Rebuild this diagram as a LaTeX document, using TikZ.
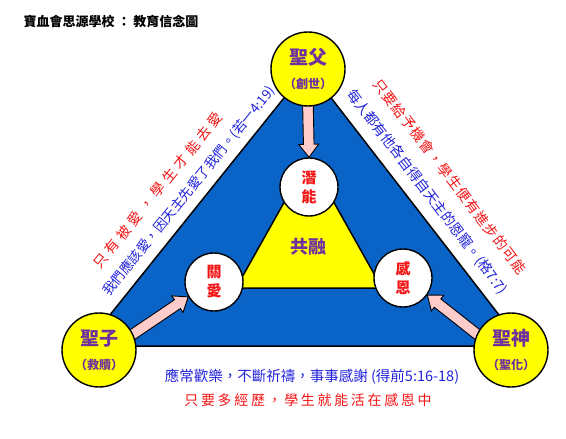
\documentclass[tikz,border=0pt]{standalone}
\usepackage{fontspec}
\setmainfont{Noto Sans CJK TC}
\usetikzlibrary{calc, backgrounds}
\definecolor{triblue}{HTML}{0A64C8}
\definecolor{sunyellow}{HTML}{FFFF00}
\definecolor{arrowpink}{HTML}{FFCCCC}
\definecolor{namepurple}{HTML}{7030A0}
\definecolor{wordred}{HTML}{F51414}
\definecolor{wordblue}{HTML}{2323DC}

\begin{document}
\begin{tikzpicture}[x=1pt, y=-1pt,
  person/.style={circle, draw, line width=1.4pt, fill=sunyellow, minimum size=74pt,
                 inner sep=0pt, align=center, text=namepurple,
                 font=\fontsize{19}{24}\selectfont\bfseries},
  value/.style={circle, draw, line width=1.4pt, fill=white, minimum size=58pt,
                inner sep=0pt, align=center, text=wordred,
                font=\fontsize{15}{19}\selectfont\bfseries},
  sidetext/.style={inner sep=0pt, font=\fontsize{14}{14}\selectfont},
  blockarrow/.style={draw=black, line width=0.9pt, fill=arrowpink, line join=miter,
    to path={let \p1=(\tikztostart), \p2=(\tikztotarget),
      \n1={atan2(\y2-\y1,\x2-\x1)}, \n2={veclen(\x2-\x1,\y2-\y1)}, \n3={\n2-13pt} in
      {[shift={(\p1)}, rotate=\n1]
       (-3pt,5.3pt) -- (\n3,5.3pt) -- (\n3,10pt) -- (\n2,0pt)
       -- (\n3,-10pt) -- (\n3,-5.3pt) -- (-3pt,-5.3pt) -- cycle}}}]
\useasboundingbox (0,0) rectangle (566,439);

\node[anchor=west, font=\fontsize{13}{13}\selectfont\bfseries] (title) at (20,22)
  {寶血會思源學校 ： 教育信念圖};

% the three persons
\node[person] (fa) at (308,69) {聖父\\{\fontsize{12}{14}\selectfont （創世）}};
\node[person] (zi) at (99,350) {聖子\\{\fontsize{12}{14}\selectfont （救贖）}};
\node[person] (sh) at (511,350) {聖神\\{\fontsize{12}{14}\selectfont （聖化）}};

% inner values
\node[value] (qn) at (309,187) {潛\\能};
\node[value] (ga) at (214,282) {關\\愛};
\node[value] (ge) at (403,278) {感\\恩};
\node[text=namepurple, font=\fontsize{18}{18}\selectfont\bfseries] (gr) at (308,247) {共融};

% texts along the sides
\node[sidetext, text=wordred, rotate=51] (lred) at (158,190)
  {\addfontfeatures{LetterSpace=30}只有被愛，學生才能去愛};
\node[sidetext, text=wordblue, rotate=51, font=\fontsize{13.5}{13.5}\selectfont] (lblue) at (189,191)
  {我們應該愛，因天主先愛了我們。(若一4:19)};
\node[sidetext, text=wordred, rotate=-52.5] (rred) at (450,177)
  {\addfontfeatures{LetterSpace=8}只要給予機會，學生便有進步的可能};
\node[sidetext, text=wordblue, rotate=-52.5] (rblue) at (427,192)
  {每人都有他各自得自天主的恩寵。(格7:7)};
\node[text=wordblue, font=\fontsize{14.5}{14.5}\selectfont] (bblue) at (312,377)
  {應常歡樂，不斷祈禱，事事感謝 (得前5:16-18)};
\node[text=wordred, font=\fontsize{14}{14}\selectfont] (bred) at (308,400)
  {\addfontfeatures{LetterSpace=19}只要多經歷，學生就能活在感恩中};

\begin{pgfonlayer}{background}
\draw[fill=triblue, line width=1.5pt] (308,68) -- (85,346) -- (523,346) -- cycle;
\draw[fill=sunyellow, line width=1.5pt] (309,158) -- (236,288) -- (382,288) -- cycle;
\draw[blockarrow] (fa.south) to (qn.north);
\draw[blockarrow] (zi.25) to (ga.210);
\draw[blockarrow] (sh.155) to (ge.325);
\end{pgfonlayer}
\end{tikzpicture}
\end{document}
